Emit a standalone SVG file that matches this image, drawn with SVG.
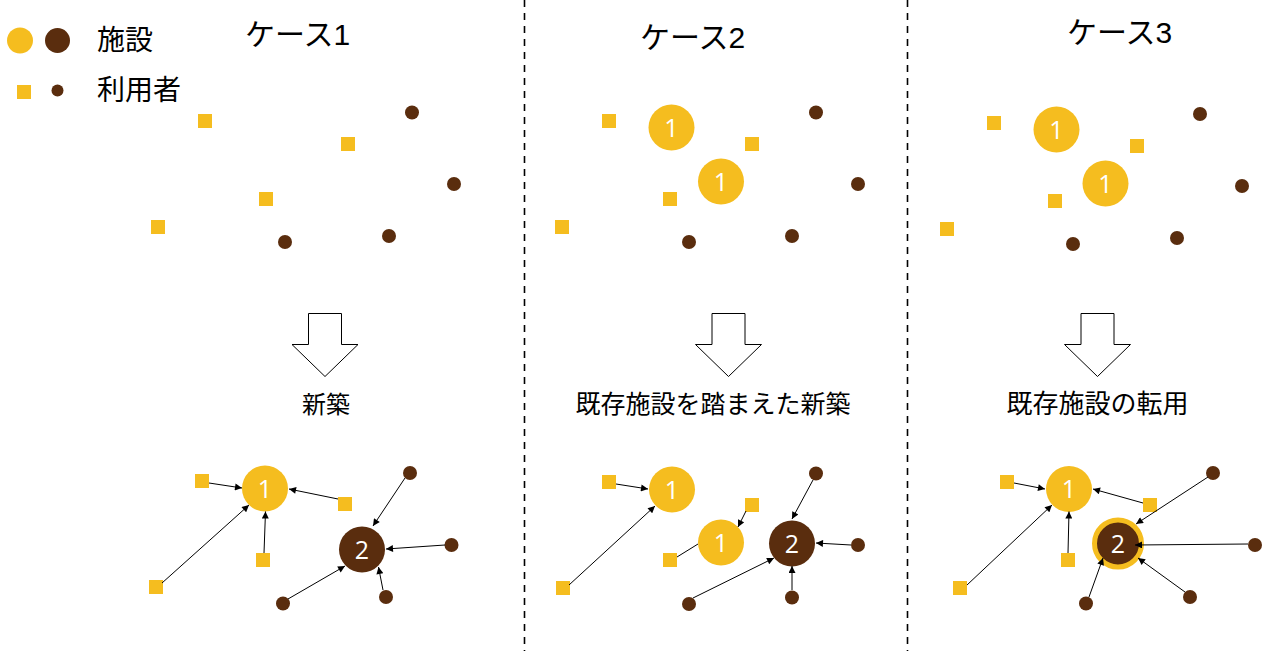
<svg xmlns="http://www.w3.org/2000/svg" width="1266" height="651" viewBox="0 0 1266 651">
<style>
.y{fill:#F5BD1F}
.b{fill:#5A2D0E}
.ring{fill:#5A2D0E;stroke:#F5BD1F;stroke-width:5}
.t{font-family:"Liberation Sans","Noto Sans CJK JP",sans-serif;fill:#000}
.num{font-family:"Open Sans","Noto Sans",sans-serif;font-size:25px;fill:#fff;text-anchor:middle}
.blk{fill:#fff;stroke:#000;stroke-width:1}
.dash{stroke:#000;stroke-width:1.6;stroke-dasharray:7 6}
.c{stroke:#000;stroke-width:1;fill:none}
.ca{stroke:#000;stroke-width:1;fill:none;marker-end:url(#ah)}
</style>
<defs>
<marker id="ah" viewBox="0 0 10 10" refX="10" refY="5" markerWidth="8" markerHeight="7" markerUnits="userSpaceOnUse" orient="auto"><path d="M0,0 L10,5 L0,10 z" fill="#000"/></marker>
</defs>
<rect width="1266" height="651" fill="#fff"/>
<g id="dividers">
<line class="dash" x1="524.5" y1="0" x2="524.5" y2="651"/>
<line class="dash" x1="907.5" y1="0" x2="907.5" y2="651"/>
</g>
<g id="legend">
<circle class="y" cx="20" cy="40.5" r="13"/>
<circle class="b" cx="57.5" cy="40.5" r="12.5"/>
<text class="t" x="97" y="50" font-size="28">施設</text>
<rect class="y" x="17" y="85" width="14" height="14"/>
<circle class="b" cx="57.5" cy="90.5" r="6"/>
<text class="t" x="97" y="100" font-size="28">利用者</text>
</g>
<g id="titles">
<text class="t" x="245" y="45" font-size="30">ケース1</text>
<text class="t" x="640" y="48" font-size="30">ケース2</text>
<text class="t" x="1067" y="43" font-size="30">ケース3</text>
</g>
<g id="case1-top">
<rect class="y" x="198" y="114" width="14" height="14"/>
<rect class="y" x="341" y="137" width="14" height="14"/>
<rect class="y" x="259" y="192" width="14" height="14"/>
<rect class="y" x="151" y="220" width="14" height="14"/>
<circle class="b" cx="412" cy="112.5" r="7"/>
<circle class="b" cx="454" cy="184" r="7"/>
<circle class="b" cx="285" cy="242" r="7"/>
<circle class="b" cx="389" cy="236" r="7"/>
</g>
<g id="case2-top">
<rect class="y" x="602" y="114" width="14" height="14"/>
<rect class="y" x="745" y="137" width="14" height="14"/>
<rect class="y" x="663" y="192" width="14" height="14"/>
<rect class="y" x="555" y="220" width="14" height="14"/>
<circle class="b" cx="816" cy="112.5" r="7"/>
<circle class="b" cx="858" cy="184" r="7"/>
<circle class="b" cx="689" cy="242" r="7"/>
<circle class="b" cx="792" cy="236" r="7"/>
<g id="c2-top-f1"><circle class="y" cx="671.5" cy="127.5" r="23"/><text class="num" x="671.5" y="136.5">1</text></g>
<g id="c2-top-f2"><circle class="y" cx="721" cy="181.5" r="23"/><text class="num" x="721" y="190.5">1</text></g>
</g>
<g id="case3-top">
<rect class="y" x="987" y="116" width="14" height="14"/>
<rect class="y" x="1130" y="139" width="14" height="14"/>
<rect class="y" x="1048" y="194" width="14" height="14"/>
<rect class="y" x="940" y="222" width="14" height="14"/>
<circle class="b" cx="1200" cy="114" r="7"/>
<circle class="b" cx="1242" cy="186" r="7"/>
<circle class="b" cx="1073" cy="244" r="7"/>
<circle class="b" cx="1177" cy="238" r="7"/>
<g id="c3-top-f1"><circle class="y" cx="1056.5" cy="129.5" r="23"/><text class="num" x="1056.5" y="138.5">1</text></g>
<g id="c3-top-f2"><circle class="y" cx="1105.5" cy="183.5" r="23"/><text class="num" x="1105.5" y="192.5">1</text></g>
</g>
<g id="block-arrows">
<polygon class="blk" points="308.5,313.5 341.5,313.5 341.5,344.5 358,344.5 325,376.5 292,344.5 308.5,344.5"/>
<polygon class="blk" points="712,313.5 745,313.5 745,344.5 761.5,344.5 728.5,376.5 695.5,344.5 712,344.5"/>
<polygon class="blk" points="1081,313.5 1114,313.5 1114,344.5 1130.5,344.5 1097.5,376.5 1064.5,344.5 1081,344.5"/>
</g>
<g id="labels">
<text class="t" x="326" y="413" font-size="24" text-anchor="middle">新築</text>
<text class="t" x="713" y="413" font-size="25" text-anchor="middle">既存施設を踏まえた新築</text>
<text class="t" x="1097.5" y="413" font-size="26" text-anchor="middle">既存施設の転用</text>
</g>
<g id="case1-bottom">
<g id="c1-f1"><circle class="y" cx="265" cy="488.5" r="23"/><text class="num" x="265" y="497.5">1</text></g>
<g id="c1-f2"><circle class="b" cx="362" cy="549.5" r="23"/><text class="num" x="362" y="558.5">2</text></g>
<rect class="y" x="195" y="474" width="14" height="14"/>
<rect class="y" x="338" y="497" width="14" height="14"/>
<rect class="y" x="256" y="553" width="14" height="14"/>
<rect class="y" x="149" y="580" width="14" height="14"/>
<circle class="b" cx="410" cy="473" r="7"/>
<circle class="b" cx="451.5" cy="545" r="7"/>
<circle class="b" cx="283" cy="603.5" r="7"/>
<circle class="b" cx="386" cy="597" r="7"/>
</g>
<g id="case2-bottom">
<g id="c2-f1a"><circle class="y" cx="672" cy="489.5" r="23"/><text class="num" x="672" y="498.5">1</text></g>
<g id="c2-f1b"><circle class="y" cx="721" cy="542.5" r="23"/><text class="num" x="721" y="551.5">1</text></g>
<g id="c2-f2"><circle class="b" cx="792" cy="543.5" r="23"/><text class="num" x="792" y="552.5">2</text></g>
<rect class="y" x="602" y="475" width="14" height="14"/>
<rect class="y" x="745" y="498" width="14" height="14"/>
<rect class="y" x="663" y="553" width="14" height="14"/>
<rect class="y" x="556" y="581" width="14" height="14"/>
<circle class="b" cx="816" cy="473.5" r="7"/>
<circle class="b" cx="858" cy="545" r="7"/>
<circle class="b" cx="689" cy="604" r="7"/>
<circle class="b" cx="792" cy="597.5" r="7"/>
</g>
<g id="case3-bottom">
<g id="c3-f1"><circle class="y" cx="1069" cy="489" r="23"/><text class="num" x="1069" y="498">1</text></g>
<g id="c3-f2"><circle class="ring" cx="1118" cy="543.5" r="23.5"/><text class="num" x="1118" y="552.5">2</text></g>
<rect class="y" x="1000" y="475" width="14" height="14"/>
<rect class="y" x="1143" y="498" width="14" height="14"/>
<rect class="y" x="1061" y="553" width="14" height="14"/>
<rect class="y" x="953" y="581" width="14" height="14"/>
<circle class="b" cx="1213" cy="473" r="7"/>
<circle class="b" cx="1255" cy="545" r="7"/>
<circle class="b" cx="1086" cy="603.5" r="7"/>
<circle class="b" cx="1190" cy="597" r="7"/>
</g>
<g id="connectors">
<line class="ca" x1="209" y1="483" x2="242" y2="488"/>
<line class="ca" x1="338" y1="499" x2="289" y2="489"/>
<line class="ca" x1="264" y1="553" x2="265.5" y2="511.5"/>
<line class="ca" x1="162" y1="583" x2="249" y2="505"/>
<line class="ca" x1="405" y1="478" x2="373" y2="526"/>
<line class="ca" x1="445" y1="545" x2="386" y2="549"/>
<line class="ca" x1="288" y1="599" x2="345" y2="566"/>
<line class="ca" x1="383" y1="590" x2="378.5" y2="567"/>

<line class="ca" x1="616" y1="484" x2="648" y2="489"/>
<line class="ca" x1="569" y1="585" x2="655" y2="506"/>
<line class="ca" x1="746" y1="511" x2="738" y2="527"/>
<line class="c" x1="677" y1="557" x2="698" y2="544"/>
<line class="ca" x1="813" y1="480" x2="792" y2="519"/>
<line class="ca" x1="851" y1="545" x2="816" y2="543"/>
<line class="ca" x1="693" y1="598" x2="774" y2="558"/>
<line class="ca" x1="792" y1="590" x2="792" y2="566"/>

<line class="ca" x1="1014" y1="483" x2="1045" y2="489"/>
<line class="ca" x1="1143" y1="503" x2="1093" y2="489"/>
<line class="ca" x1="1068" y1="553" x2="1069" y2="511.5"/>
<line class="ca" x1="967" y1="585" x2="1052" y2="505"/>
<line class="ca" x1="1208" y1="477" x2="1136" y2="524"/>
<line class="ca" x1="1248" y1="544" x2="1135" y2="545"/>
<line class="ca" x1="1089" y1="597" x2="1103" y2="558"/>
<line class="ca" x1="1185" y1="592" x2="1138" y2="558"/>
</g>
</svg>
